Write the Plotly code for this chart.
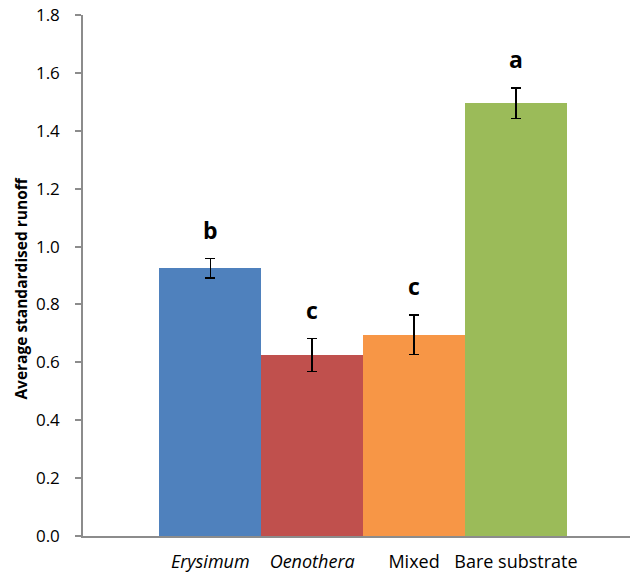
import plotly.graph_objects as go

# Runoff per treatment
categories = ["<i>Erysimum</i>", "<i>Oenothera</i>", "Mixed", "Bare substrate"]
mean_runoff = [0.925, 0.625, 0.695, 1.495]
std_error = [0.033, 0.057, 0.068, 0.053]
group_letters = ["b", "c", "c", "a"]
bar_colors = ["#4F81BD", "#C0504D", "#F79646", "#9BBB59"]
y_ticks = [0.0, 0.2, 0.4, 0.6, 0.8, 1.0, 1.2, 1.4, 1.6, 1.8]

FONT = "Open Sans"

fig = go.Figure()
fig.add_trace(go.Bar(
    x=categories,
    y=mean_runoff,
    marker=dict(color=bar_colors, line=dict(width=0)),
    error_y=dict(type="data", array=std_error, color="black", thickness=1.5, width=5),
    showlegend=False,
))

# significance letters above each error bar
for cat, m, e, letter in zip(categories, mean_runoff, std_error, group_letters):
    fig.add_annotation(
        x=cat, y=m + e, text=f"<b>{letter}</b>", showarrow=False,
        yanchor="bottom", yshift=11,
        font=dict(family=FONT, size=23, color="black"),
    )

fig.add_annotation(
    xref="paper", yref="paper", x=-0.115, y=0.475,
    text="<b>Average standardised runoff</b>", textangle=-90, showarrow=False,
    xanchor="center", yanchor="middle",
    font=dict(family=FONT, size=15.5, color="black"),
)

fig.update_layout(
    width=630, height=573,
    margin=dict(l=83, r=0, t=15, b=35),
    plot_bgcolor="white", paper_bgcolor="white",
    bargap=0,
    font=dict(family=FONT, size=16, color="black"),
    xaxis=dict(
        type="category", range=[-1.249, 4.119],
        showline=True, linecolor="#8C8C8C", linewidth=1.5,
        ticks="", showgrid=False, zeroline=False,
        ticklabelstandoff=9,
        tickfont=dict(family=FONT, size=18, color="black"),
    ),
    yaxis=dict(
        range=[0, 1.8], tickvals=y_ticks, tickformat=".1f",
        showline=True, linecolor="#8C8C8C", linewidth=1.5,
        ticks="outside", ticklen=6, tickcolor="#8C8C8C", tickwidth=1.5,
        ticklabelstandoff=12,
        showgrid=False, zeroline=False,
        tickfont=dict(family=FONT, size=17, color="black"),
    ),
)

fig.write_html("out.html")
